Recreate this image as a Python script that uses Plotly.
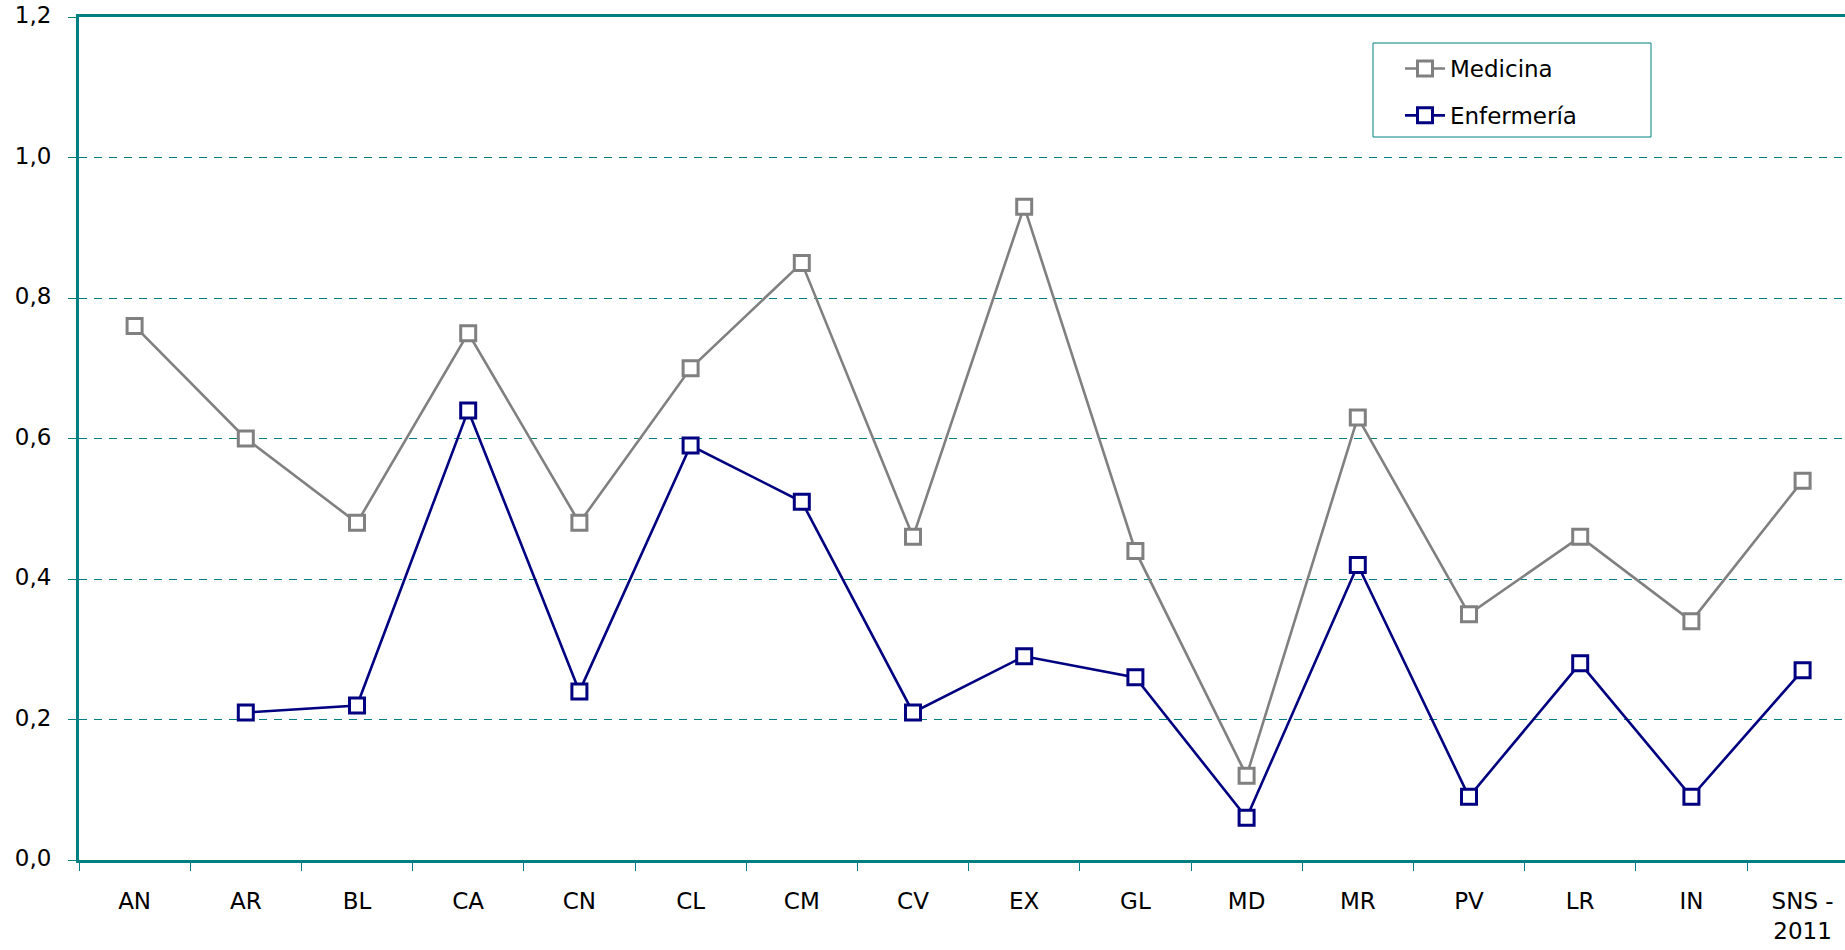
import plotly.graph_objects as go

categories = ["AN", "AR", "BL", "CA", "CN", "CL", "CM", "CV", "EX", "GL", "MD", "MR", "PV", "LR", "IN", "SNS -<br>2011"]
medicina = [0.76, 0.60, 0.48, 0.75, 0.48, 0.70, 0.85, 0.46, 0.93, 0.44, 0.12, 0.63, 0.35, 0.46, 0.34, 0.54]
enfermeria = [None, 0.21, 0.22, 0.64, 0.24, 0.59, 0.51, 0.21, 0.29, 0.26, 0.06, 0.42, 0.09, 0.28, 0.09, 0.27]
y_ticks = [0.0, 0.2, 0.4, 0.6, 0.8, 1.0, 1.2]
y_labels = ["0,0", "0,2", "0,4", "0,6", "0,8", "1,0", "1,2"]

TEAL = "#008080"
FONT = "DejaVu Sans"

W, H = 1845, 950
L, T, B = 79, 17, 90
CAT_W = 111.2                      # pixel width of one category
PLOT_W = W - L
x_max = -0.5 + PLOT_W / CAT_W      # last category runs past the right edge, as in the original
PLOT_H = H - T - B


def px_x(p):
    return (p - L) / PLOT_W


def px_y(p):
    return (H - B - p) / PLOT_H


fig = go.Figure()
fig.add_trace(go.Scatter(
    x=categories, y=medicina, name="Medicina", mode="lines+markers",
    line=dict(color="#808080", width=2.6),
    marker=dict(symbol="square", size=15, color="white", line=dict(color="#808080", width=3)),
    legendgroup="a",
))
fig.add_trace(go.Scatter(
    x=categories, y=enfermeria, name="Enfermería", mode="lines+markers",
    line=dict(color="#000080", width=2.6),
    marker=dict(symbol="square", size=15, color="white", line=dict(color="#000080", width=3)),
    legendgroup="b",
))

# legend frame
fig.add_shape(type="rect", xref="paper", yref="paper",
              x0=px_x(1373), x1=px_x(1651), y0=px_y(137), y1=px_y(43),
              line=dict(color=TEAL, width=1), fillcolor="white", layer="below")

fig.update_layout(
    width=W, height=H,
    margin=dict(l=L, r=0, t=T, b=B, autoexpand=False),
    paper_bgcolor="white", plot_bgcolor="white",
    font=dict(family=FONT, size=23, color="black"),
    showlegend=True,
    legend=dict(x=px_x(1400), y=px_y(47), xanchor="left", yanchor="top",
                bgcolor="rgba(0,0,0,0)", borderwidth=0,
                tracegroupgap=14, font=dict(size=23), itemwidth=40),
    xaxis=dict(
        type="category", tickson="boundaries", ticks="outside", ticklen=8,
        tickcolor=TEAL, tickwidth=1,
        showline=True, linecolor=TEAL, linewidth=3, mirror=True,
        showgrid=False, ticklabelstandoff=18, automargin=False,
        range=[-0.5, x_max],
    ),
    yaxis=dict(
        range=[0, 1.2], tickvals=y_ticks, ticktext=y_labels,
        ticks="outside", ticklen=8, tickcolor=TEAL, tickwidth=1,
        showline=True, linecolor=TEAL, linewidth=3,
        showgrid=True, gridcolor=TEAL, gridwidth=1, griddash="8px,7px",
        zeroline=False, ticklabelstandoff=12, automargin=False,
        ticklabelshift=-2, ticklabeloverflow="allow",
    ),
)

fig.write_html("out.html",
               config={"displayModeBar": False},
               post_script="document.body.style.margin='0px'; document.body.style.overflow='hidden';")
